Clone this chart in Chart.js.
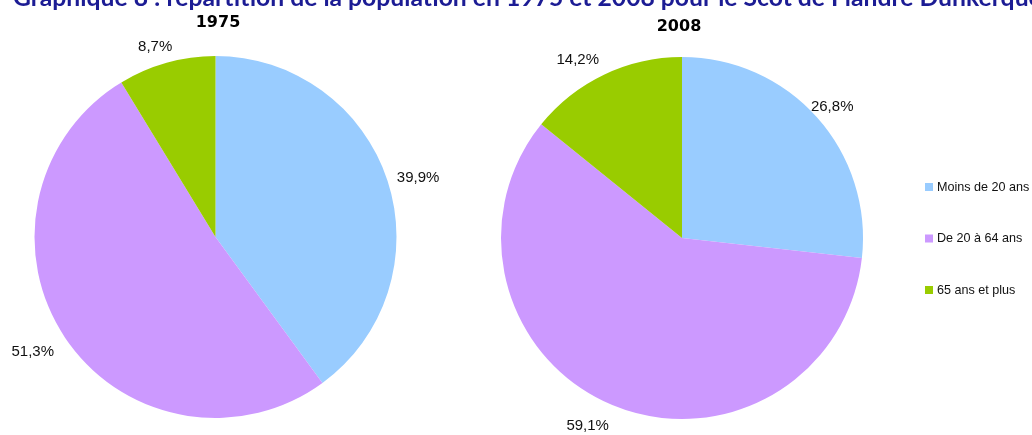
<!DOCTYPE html>
<html><head><meta charset="utf-8">
<script src="https://cdn.jsdelivr.net/npm/chart.js@4.4.1/dist/chart.umd.min.js"></script>
<style>
html,body{margin:0;padding:0;background:#fff;width:1032px;height:435px;overflow:hidden}
.c{position:absolute;left:0;top:0;width:1032px;height:435px}
</style></head><body>
<div class="c"><canvas id="c1" width="1032" height="435"></canvas></div>
<div class="c"><canvas id="c2" width="1032" height="435"></canvas></div>
<script>
const mainTitle = 'Graphique 8 : répartition de la population en 1975 et 2008 pour le Scot de Flandre Dunkerque';
const categories = ['Moins de 20 ans', 'De 20 à 64 ans', '65 ans et plus'];
const years = ['1975', '2008'];
const values1975 = [39.9, 51.3, 8.7];
const values2008 = [26.8, 59.1, 14.2];
const colors = ['#99ccff', '#cc99ff', '#99cc00'];

const fmt = v => v.toFixed(1).replace('.', ',') + '%';

const piePlugin = {
  id: 'pieExtras',
  afterDatasetsDraw(chart, args, opts) {
    const ctx = chart.ctx;
    const meta = chart.getDatasetMeta(0);
    const data = chart.data.datasets[0].data;
    ctx.save();
    // slice labels outside the pie
    ctx.font = '15px "Liberation Sans", Arial, sans-serif';
    ctx.fillStyle = '#111';
    ctx.textAlign = 'center';
    ctx.textBaseline = 'middle';
    let cx = 0;
    meta.data.forEach((arc, i) => {
      const p = arc.getProps(['x', 'y', 'startAngle', 'endAngle', 'outerRadius'], true);
      cx = p.x;
      const mid = (p.startAngle + p.endAngle) / 2;
      const ux = Math.cos(mid), uy = Math.sin(mid);
      const txt = fmt(data[i]);
      const w = ctx.measureText(txt).width, h = 11;
      const d = p.outerRadius + 14;
      ctx.fillText(txt, p.x + d * ux + (w / 2) * ux + opts.lx, p.y + d * uy + (h / 2) * uy + 3);
    });
    // year title
    ctx.fillStyle = '#000';
    ctx.font = 'bold 16px "DejaVu Sans", Verdana, sans-serif';
    ctx.textBaseline = 'alphabetic';
    ctx.fillText(opts.year, cx + opts.dx, opts.baseline);
    // main title
    if (opts.mainTitle) {
      ctx.textAlign = 'left';
      ctx.font = 'bold 20px Lato, sans-serif';
      const w = ctx.measureText(opts.mainTitle).width;
      const size = 20 * 1029 / w;
      ctx.font = 'bold ' + size.toFixed(2) + 'px Lato, sans-serif';
      ctx.fillStyle = '#1c1c94';
      ctx.fillText(opts.mainTitle, 13, 6);
    }
    // legend
    if (opts.legend) {
      ctx.textAlign = 'left';
      ctx.textBaseline = 'middle';
      ctx.font = '12.6px "Liberation Sans", Arial, sans-serif';
      categories.forEach((c, i) => {
        const y = 187 + i * 51.5;
        ctx.fillStyle = colors[i];
        ctx.fillRect(925, y - 4, 8, 8);
        ctx.fillStyle = '#111';
        ctx.fillText(c, 937, y + 0.5);
      });
    }
    ctx.restore();
  }
};

function makePie(id, values, padding, pluginOpts) {
  return new Chart(document.getElementById(id), {
    type: 'pie',
    data: {
      labels: categories,
      datasets: [{ data: values, backgroundColor: colors, borderWidth: 0, hoverOffset: 0 }]
    },
    options: {
      responsive: false,
      devicePixelRatio: 1,
      animation: false,
      events: [],
      layout: { padding },
      plugins: {
        legend: { display: false },
        tooltip: { enabled: false },
        title: { display: false },
        pieExtras: pluginOpts
      }
    },
    plugins: [piePlugin]
  });
}

makePie('c1', values1975, { left: 34, right: 635, top: 56, bottom: 17 },
  { year: years[0], baseline: 27, dx: 2.5, lx: -3, mainTitle: mainTitle, legend: false });
makePie('c2', values2008, { left: 501, right: 169, top: 57, bottom: 16 },
  { year: years[1], baseline: 31, dx: -3, lx: -11, mainTitle: null, legend: true });
</script>
</body></html>
